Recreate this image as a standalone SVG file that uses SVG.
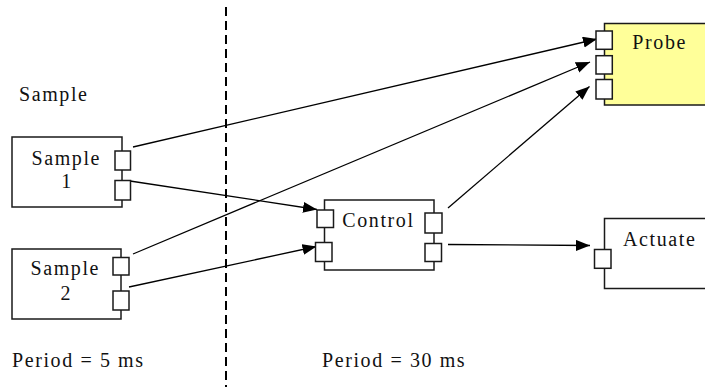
<svg xmlns="http://www.w3.org/2000/svg" width="705" height="387" viewBox="0 0 705 387">
  <style>
    .box { fill: #ffffff; stroke: #1a1a1a; stroke-width: 1.5; }
    .probe { fill: #ffff99; stroke: #1a1a1a; stroke-width: 1.5; }
    .port { fill: #ffffff; stroke: #1a1a1a; stroke-width: 1.5; }
    .wire { fill: none; stroke: #000000; stroke-width: 1.3; }
    .edge { fill: none; stroke: #000000; stroke-width: 1.3; marker-end: url(#arrow); }
    .divider { fill: none; stroke: #000000; stroke-width: 2; stroke-dasharray: 9 5; }
    text { font-family: "Liberation Serif", "Times New Roman", serif; font-size: 20px; letter-spacing: 1.6px; fill: #111111; }
  </style>
  <defs>
    <marker id="arrow" markerUnits="userSpaceOnUse" markerWidth="15" markerHeight="12" refX="14" refY="5.5" orient="auto">
      <path d="M0,0 L14,5.5 L0,11 z" fill="#000000"/>
    </marker>
  </defs>

  <rect width="705" height="387" fill="#ffffff"/>

  <!-- rate partition -->
  <line class="divider" x1="226" y1="7" x2="226" y2="387"/>
  <text x="19" y="100.5">Sample</text>
  <text x="12" y="366.5">Period = 5 ms</text>
  <text x="322" y="366.5">Period = 30 ms</text>

  <g id="connectors">
    <line class="edge" x1="133" y1="147" x2="597" y2="39"/>
    <line class="edge" x1="130" y1="181" x2="317" y2="209.5"/>
    <line class="edge" x1="133" y1="254" x2="590" y2="62"/>
    <line class="edge" x1="129" y1="287" x2="316.5" y2="246.5"/>
    <line class="edge" x1="448" y1="208" x2="589.5" y2="86.5"/>
    <line class="edge" x1="448" y1="244.5" x2="590" y2="245.5"/>
  </g>

  <g id="sample1">
    <rect class="box" x="12" y="137" width="110" height="70"/>
    <rect class="port" x="115" y="151" width="15.5" height="19"/>
    <rect class="port" x="115" y="180.5" width="15.5" height="19.5"/>
    <text x="31.5" y="164.5">Sample</text>
    <text x="61.3" y="187.7">1</text>
  </g>

  <g id="sample2">
    <rect class="box" x="12" y="249" width="109" height="70"/>
    <rect class="port" x="113" y="257.5" width="16" height="17.5"/>
    <rect class="port" x="113" y="291" width="16" height="19"/>
    <text x="30.5" y="275">Sample</text>
    <text x="60.5" y="299.5">2</text>
  </g>

  <g id="control">
    <rect class="box" x="324.5" y="200" width="109.5" height="70"/>
    <rect class="port" x="317" y="210" width="16.5" height="17.5"/>
    <rect class="port" x="315.5" y="242.5" width="16.5" height="19"/>
    <rect class="port" x="425" y="213" width="17" height="20"/>
    <rect class="port" x="425" y="243.5" width="16.5" height="18"/>
    <text x="342.3" y="226.7">Control</text>
  </g>

  <g id="probe">
    <rect class="probe" x="604.5" y="23.5" width="120" height="81.5"/>
    <rect class="port" x="596" y="31" width="16.3" height="18.3"/>
    <rect class="port" x="596" y="55.7" width="16.3" height="18.3"/>
    <rect class="port" x="596" y="79.5" width="16.3" height="19.5"/>
    <text x="632.3" y="49.3">Probe</text>
  </g>

  <g id="actuate">
    <rect class="box" x="604.5" y="218.5" width="120" height="70"/>
    <rect class="port" x="594.5" y="249.5" width="16.5" height="18.8"/>
    <text x="623" y="246">Actuate</text>
  </g>
</svg>
